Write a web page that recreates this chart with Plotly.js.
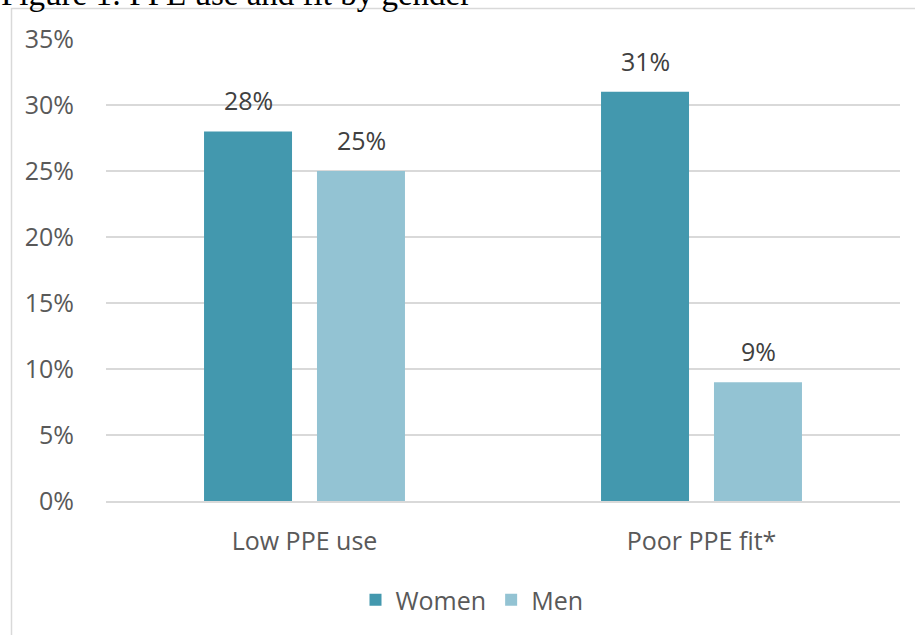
<!DOCTYPE html>
<html>
<head>
<meta charset="utf-8">
<script src="https://cdn.plot.ly/plotly-3.0.1.min.js"></script>
<style>html,body{margin:0;padding:0;background:#fff;}#chart{width:915px;height:635px;}</style>
</head>
<body>
<div id="chart"></div>
<script>
const categories = ["Low PPE use", "Poor PPE fit*"];
const women = [28, 31];
const men = [25, 9];
const seriesNames = ["Women", "Men"];
const yTicks = [0, 5, 10, 15, 20, 25, 30, 35];
const yTickLabels = ["0%", "5%", "10%", "15%", "20%", "25%", "30%", "35%"];
const titleText = "Figure 1: PPE use and fit by gender";

const W = 915, H = 635;
const mL = 106, mR = 15, mT = 39, mB = 134;
const pw = W - mL - mR, ph = H - mT - mB;
const px = x => (x - mL) / pw;
const py = y => (H - mB - y) / ph;

const font = "Open Sans, sans-serif";
const fs = 25;
const cWomen = "#4398AE", cMen = "#93C3D3";

const traces = [
  {type: "bar", name: seriesNames[0], x: categories, y: women, marker: {color: cWomen}, hoverinfo: "none"},
  {type: "bar", name: seriesNames[1], x: categories, y: men, marker: {color: cMen}, hoverinfo: "none"}
];

const annotations = [];
const offset = 56.5;
[women, men].forEach((vals, si) => {
  vals.forEach((v, i) => {
    annotations.push({
      x: categories[i], y: v, xref: "x", yref: "y",
      text: v + "%", showarrow: false,
      xshift: si === 0 ? -offset : offset,
      yanchor: "bottom", yshift: 12,
      font: {family: font, size: fs, color: "#404040"}
    });
  });
});
annotations.push({
  text: titleText, xref: "paper", yref: "paper",
  x: px(-1), y: py(14), xanchor: "left", yanchor: "bottom",
  showarrow: false,
  font: {family: "Liberation Serif, Times New Roman, serif", size: 33, color: "#000"}
});

const layout = {
  width: W, height: H,
  margin: {l: mL, r: mR, t: mT, b: mB, pad: 0},
  paper_bgcolor: "#fff", plot_bgcolor: "#fff",
  barmode: "group", bargap: 0.431, bargroupgap: 0.221,
  showlegend: true,
  legend: {orientation: "h", x: px(472), xanchor: "center", y: py(600), yanchor: "middle",
           font: {family: font, size: fs, color: "#595959"}, itemclick: false, traceorder: "normal"},
  xaxis: {
    type: "category", showgrid: false, zeroline: false,
    showline: true, linecolor: "#d9d9d9", linewidth: 1.5,
    ticks: "outside", ticklen: 17, tickcolor: "rgba(0,0,0,0)",
    tickfont: {family: font, size: fs, color: "#595959"}
  },
  yaxis: {
    range: [0, 35], tickvals: yTicks, ticktext: yTickLabels,
    showgrid: true, gridcolor: "#d9d9d9", gridwidth: 1.5,
    zeroline: false, showline: false,
    ticks: "outside", ticklen: 26, tickcolor: "rgba(0,0,0,0)",
    tickfont: {family: font, size: fs, color: "#595959"}
  },
  annotations: annotations,
  shapes: [{
    type: "rect", xref: "paper", yref: "paper",
    x0: px(11.5), x1: px(930), y0: py(8.5), y1: py(660),
    line: {color: "#d9d9d9", width: 1.5}, layer: "below"
  }]
};

Plotly.newPlot("chart", traces, layout, {displayModeBar: false, staticPlot: true});
</script>
</body>
</html>
